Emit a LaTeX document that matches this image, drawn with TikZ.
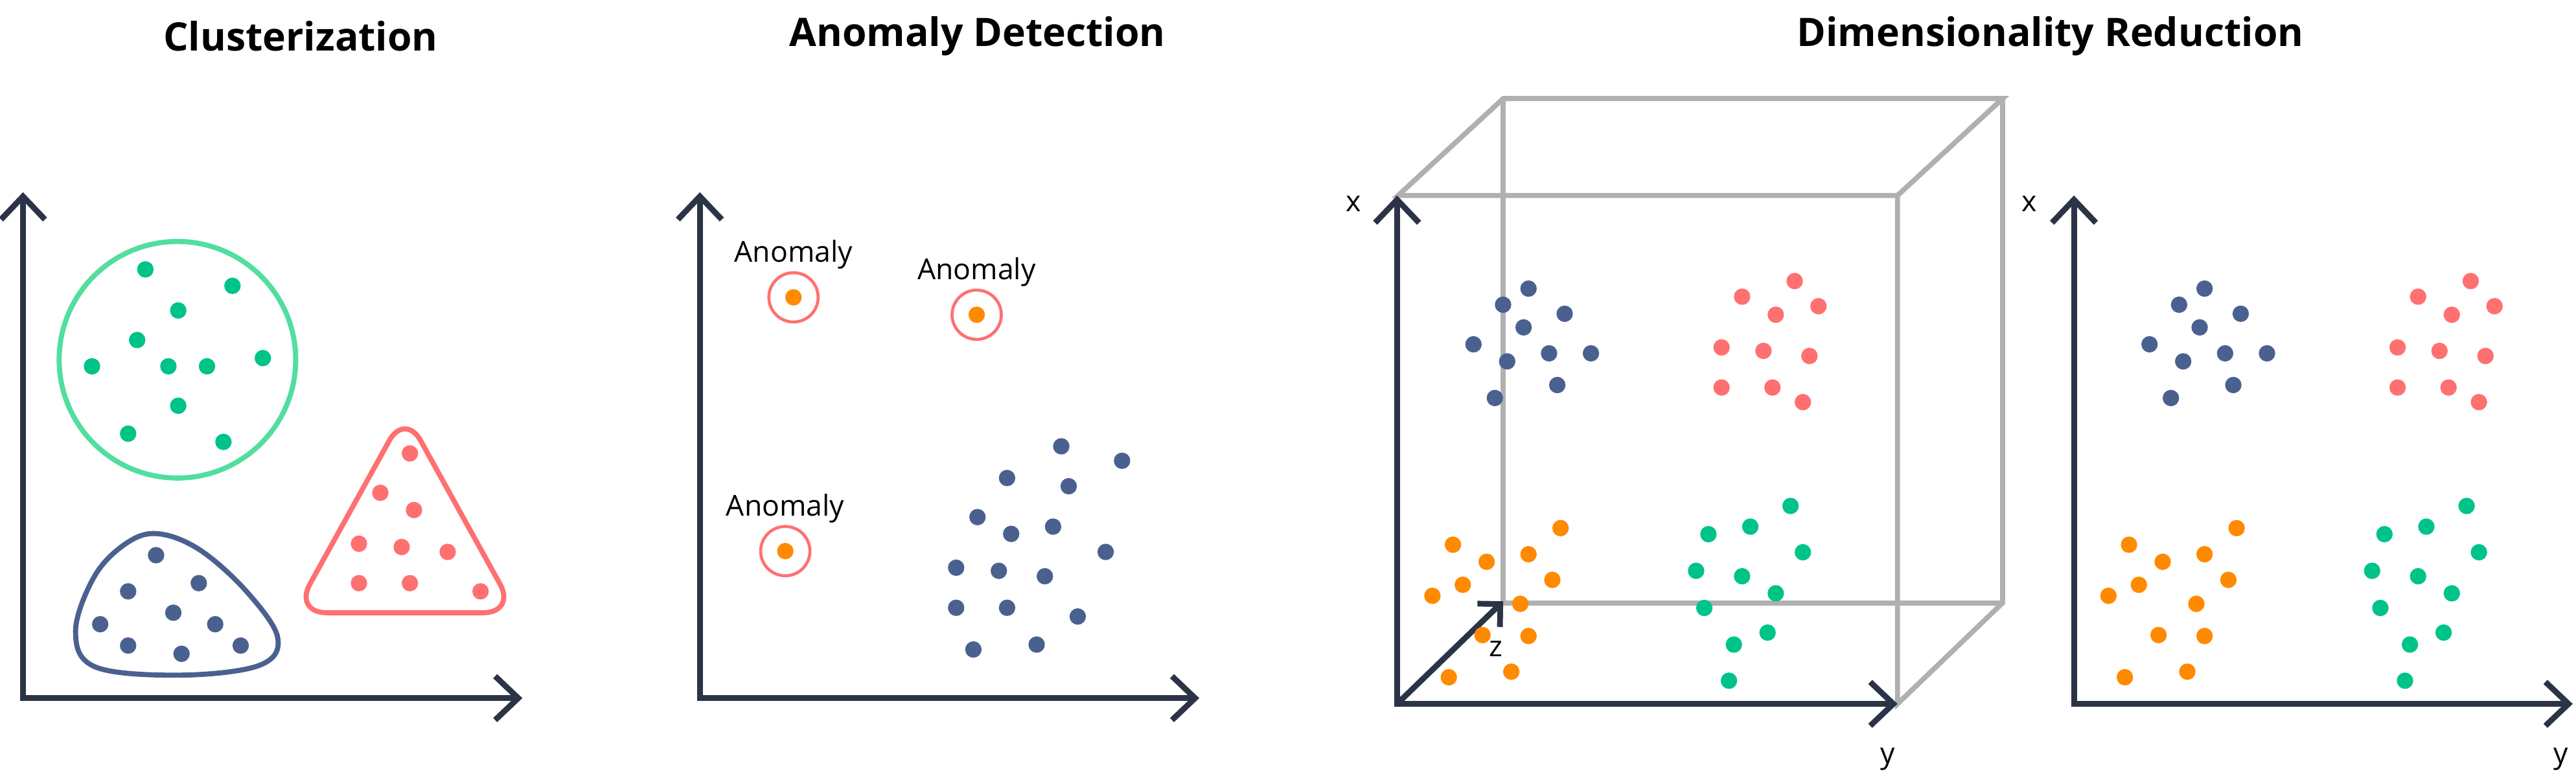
\documentclass[tikz,border=0pt]{standalone}
\usepackage{fontspec}
\setmainfont{Open Sans}
\usetikzlibrary{arrows.meta}
\definecolor{axisc}{HTML}{2B3446}
\definecolor{boxc}{HTML}{B0B0B0}
\definecolor{greenc}{HTML}{00C389}
\definecolor{greenl}{HTML}{52DE9E}
\definecolor{bluec}{HTML}{4A6190}
\definecolor{redc}{HTML}{FF7070}
\definecolor{orangec}{HTML}{FF8A00}
\tikzset{
 axis/.style={draw=axisc,line width=2.5pt,line cap=round,
  {Straight Barb[length=10pt,width=19pt]}-{Straight Barb[length=10pt,width=19pt]}},
 dot/.style={fill=#1},
 title/.style={font=\bfseries\fontsize{17}{20}\selectfont},
 lbl/.style={font=\fontsize{12.5}{15}\selectfont},
 hull/.style={line width=2.2pt}
}
\newcommand{\bluedots}{930.4/175.7,914.9/185.5,952.4/191,927.4/199.3,896.9/209.6,917.4/220,942.9/215.1,968.4/215.1,947.9/234.4,909.9/242.3}
\newcommand{\reddots}{1092.4/171.1,1060.4/180.6,1106.9/186.4,1080.9/191.6,1047.9/211.5,1073.4/213.6,1101.4/216.7,1047.9/235.9,1078.9/235.9,1097.4/244.8}
\newcommand{\orangedots}{949.9/321.5,884.4/331.6,904.9/342,930.4/337.4,890.4/356,944.9/353,871.9/362.7,925.4/367.6,902.4/386.6,930.4/387.2,881.9/412.3,919.9/408.9}
\newcommand{\greendots}{1089.9/308,1039.9/325.2,1065.4/320.6,1097.4/336.2,1032.4/347.5,1060.4/350.8,1080.9/361.2,1037.4/370.1,1075.9/385.1,1055.4/392.4,1052.4/414.4}
\begin{document}
\begin{tikzpicture}[x=0.025cm,y=-0.025cm]
 \useasboundingbox (0,0) rectangle (1568,473.6);
 % titles
 \node[title] (tclust) at (183,22) {Clusterization};
 \node[title] (tanom) at (595,22) {Anomaly Detection};
 \node[title] (tdim) at (1248,22) {Dimensionality Reduction};

 % clusterization
 \coordinate (oA) at (14,425);
 \draw[axis] (14,117) -- (oA) -- (318,425);
 \draw[greenl,hull] (108,219) circle (72);
 \foreach \x/\y in {88.5/164,141.5/174,108.5/189,83.5/207,56/223,102.5/223,126/223,160/218,108.5/247,78/264,136/269}
  \fill[dot=greenc] (\x,\y) circle (5);
 \draw[bluec,hull] plot[smooth cycle,tension=0.6] coordinates {(97,325) (122,335) (150,360) (169,388) (158,405) (110,411) (58,406) (46,384) (58,350) (78,330)};
 \foreach \x/\y in {95/338,121/355,78/360,105.5/373,131/380,61/380,78/393,110.5/398,146.5/393}
  \fill[dot=bluec] (\x,\y) circle (5);
 \draw[redc,hull,rounded corners=14] (246.5,251) -- (314,373) -- (179,373) -- cycle;
 \foreach \x/\y in {249.5/276,231.5/300,252/310.5,218.5/331,244.5/333,272.5/336,218.5/355,249.5/355,292.5/360}
  \fill[dot=redc] (\x,\y) circle (5);

 % anomaly detection
 \coordinate (oB) at (426,425);
 \draw[axis] (426,117) -- (oB) -- (730,425);
 \foreach \x/\y/\n in {483/181/1,594.5/191.6/2,478/335.5/3} {
  \draw[redc,line width=1.3pt] (\x,\y) circle (15);
  \fill[dot=orangec] (\x,\y) circle (5);
  \node[lbl] (anom\n) at (\x,\y-26) {Anomaly};
 }
 \foreach \x/\y in {646/271.7,683/280.5,613/291,650.5/296,595/314.8,641/320.6,615.5/325,673/336,582/345.6,608/347.5,636/350.8,582/370,613/370,656/375.3,592.5/395.4,631/392.4}
  \fill[dot=bluec] (\x,\y) circle (5);

 % 3d box
 \begin{scope}[boxc,line width=2.2pt]
  \draw (851,119) -- (915,60) -- (1219,60) -- (1155,119) -- cycle;
  \draw (1155,119) -- (1155,428.5) -- (1219,367) -- (1219,60);
  \draw (915,60) -- (915,367) -- (1219,367);
 \end{scope}
 \coordinate (oC) at (850.4,428.5);
 \coordinate (zC) at (915,366);
 \draw[axis] (850.4,119) -- (oC) -- (1155,428.5);
 \draw[axis,-{Straight Barb[length=7pt,width=14pt]}] (oC) -- (zC);
 \node[lbl] (xC) at (824,124) {x};
 \node[lbl] (yC) at (1149,462) {y};
 \node[lbl] (zl) at (910.5,395) {z};

 % 2d projection
 \coordinate (oD) at (1262.4,428.5);
 \draw[axis] (1262.4,119) -- (oD) -- (1566,428.5);
 \node[lbl] (xD) at (1235.4,124) {x};
 \node[lbl] (yD) at (1559,462) {y};

 \foreach \s in {0,411.5} {
  \foreach \x/\y in \bluedots \fill[dot=bluec] (\x+\s,\y) circle (5);
  \foreach \x/\y in \reddots \fill[dot=redc] (\x+\s,\y) circle (5);
  \foreach \x/\y in \orangedots \fill[dot=orangec] (\x+\s,\y) circle (5);
  \foreach \x/\y in \greendots \fill[dot=greenc] (\x+\s,\y) circle (5);
 }
\end{tikzpicture}
\end{document}
